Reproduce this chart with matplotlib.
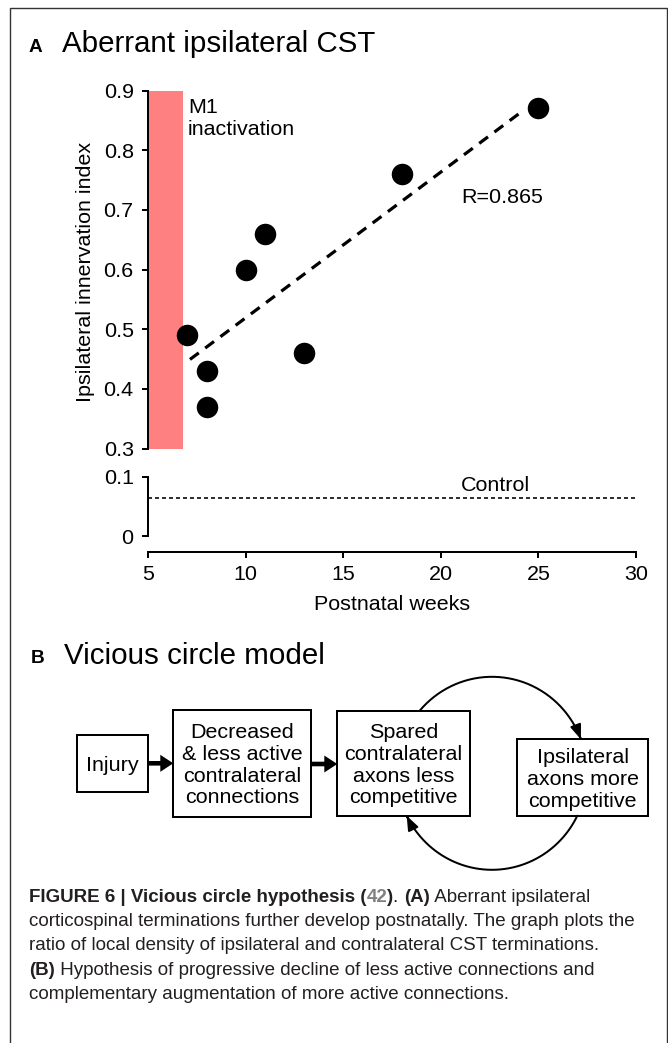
import numpy as np
import matplotlib
matplotlib.use("Agg")
import matplotlib.pyplot as plt
from matplotlib import font_manager
from matplotlib.patches import Rectangle, FancyArrow, FancyArrowPatch, ArrowStyle
from matplotlib.path import Path

# ---------------- data ----------------
postnatal_weeks = [7, 8, 8, 10, 11, 13, 18, 25]
ipsi_index = [0.49, 0.43, 0.37, 0.60, 0.66, 0.46, 0.76, 0.87]
control_index = 0.065
inactivation_span = [5.0, 6.8]
fit_span = [7.15, 24.3]
r_label = "R=0.865"
x_ticks = [5, 10, 15, 20, 25, 30]
x_tick_labels = ["5", "10", "15", "20", "25", "30"]
y_ticks_upper = [0.3, 0.4, 0.5, 0.6, 0.7, 0.8, 0.9]
y_tick_labels_upper = ["0.3", "0.4", "0.5", "0.6", "0.7", "0.8", "0.9"]
y_ticks_lower = [0.0, 0.1]
y_tick_labels_lower = ["0", "0.1"]

box_texts = [
    ["Injury"],
    ["Decreased", "& less active", "contralateral", "connections"],
    ["Spared", "contralateral", "axons less", "competitive"],
    ["Ipsilateral", "axons more", "competitive"],
]

caption_lines = [
    [("FIGURE 6 | Vicious circle hypothesis (", "bold", "#231f20"), ("42", "bold", "#808080"),
     (")", "bold", "#231f20"), (". ", "normal", "#231f20"), ("(A)", "bold", "#231f20"),
     (" Aberrant ipsilateral", "normal", "#231f20")],
    [("corticospinal terminations further develop postnatally. The graph plots the", "normal", "#231f20")],
    [("ratio of local density of ipsilateral and contralateral CST terminations.", "normal", "#231f20")],
    [("(B)", "bold", "#231f20"), (" Hypothesis of progressive decline of less active connections and", "normal", "#231f20")],
    [("complementary augmentation of more active connections.", "normal", "#231f20")],
]

# ---------------- layout ----------------
W, H, DPI = 668, 1043, 100
PX = 72.0 / DPI          # points per pixel
FS = 21.5 * PX           # axis / box text size
FS_TITLE = 29.5 * PX
FS_LETTER = 19 * PX

plt.rcParams["font.family"] = ["Liberation Sans", "DejaVu Sans"]
plt.rcParams["lines.scale_dashes"] = False

fig = plt.figure(figsize=(W / DPI, H / DPI), dpi=DPI, facecolor="white")

def fx(x):
    return x / W

def fy(y):
    return 1 - y / H

# overlay in pixel coordinates
ov = fig.add_axes([0, 0, 1, 1], zorder=5)
ov.set_xlim(0, W)
ov.set_ylim(H, 0)
ov.axis("off")

X0, X1 = 148, 636
TOP, MID = 90.5, 448.5
LTOP, LBOT = 477, 536

ax1 = fig.add_axes([fx(X0), fy(MID), (X1 - X0) / W, (MID - TOP) / H])
ax2 = fig.add_axes([fx(X0), fy(LBOT), (X1 - X0) / W, (LBOT - LTOP) / H])

for ax in (ax1, ax2):
    ax.set_xlim(x_ticks[0], x_ticks[-1])
    ax.patch.set_alpha(0)
    ax.spines["top"].set_visible(False)
    ax.spines["right"].set_visible(False)
    ax.spines["left"].set_linewidth(2 * PX)
    ax.tick_params(axis="y", direction="out", length=6 * PX, width=2 * PX, pad=6, labelsize=FS)

# upper panel
ax1.set_ylim(y_ticks_upper[0], y_ticks_upper[-1])
ax1.spines["bottom"].set_visible(False)
ax1.set_xticks([])
ax1.set_yticks(y_ticks_upper)
ax1.set_yticklabels(y_tick_labels_upper)
ax1.axvspan(inactivation_span[0], inactivation_span[1], color="#FF8080", lw=0, zorder=1)
ax1.scatter(postnatal_weeks, ipsi_index, s=(21.5 * PX) ** 2, c="black", lw=0, zorder=4, clip_on=False)
slope, intercept = np.polyfit(postnatal_weeks, ipsi_index, 1)
fx_line = np.array(fit_span)
ax1.plot(fx_line, slope * fx_line + intercept, color="black", lw=3.2 * PX,
         dashes=(11 * PX, 8 * PX), zorder=3)
ax1.text(21.06, 0.711, r_label, fontsize=FS, ha="left", va="baseline")
ax1.text(7.05, 0.8623, "M1", fontsize=FS, ha="left", va="baseline")
ax1.text(7.05, 0.8254, "inactivation", fontsize=FS, ha="left", va="baseline")
ax1.set_ylabel("Ipsilateral innervation index", fontsize=FS, va="baseline")
ax1.yaxis.set_label_coords(91, 272, transform=ov.transData)

# lower panel
ax2.set_ylim(y_ticks_lower[0], y_ticks_lower[-1])
ax2.set_yticks(y_ticks_lower)
ax2.set_yticklabels(y_tick_labels_lower)
ax2.spines["bottom"].set_position(("outward", 16 * PX))
ax2.spines["bottom"].set_bounds(x_ticks[0], x_ticks[-1])
ax2.spines["bottom"].set_linewidth(2 * PX)
ax2.set_xticks(x_ticks)
ax2.set_xticklabels(x_tick_labels)
ax2.tick_params(axis="x", direction="out", length=6 * PX, width=2 * PX, pad=5, labelsize=FS)
ax2.axhline(control_index, color="black", lw=1.6 * PX, dashes=(4 * PX, 3 * PX))
ax2.text(21.05, 0.0768, "Control", fontsize=FS, ha="left", va="baseline")
ax2.set_xlabel("Postnatal weeks", fontsize=FS, va="baseline")
ax2.xaxis.set_label_coords((X0 + X1) / 2, 609.5, transform=ov.transData)

# frame
ov.plot([10, 10, 667, 667], [H + 5, 8, 8, H + 5], color="#333333", lw=1.4 * PX, clip_on=False,
        solid_joinstyle="miter")

# panel titles
ov.text(29, 52, "A", fontsize=FS_LETTER, weight="bold", ha="left", va="baseline")
ov.text(61.5, 52, "Aberrant ipsilateral CST", fontsize=FS_TITLE, ha="left", va="baseline")
ov.text(31, 663, "B", fontsize=FS_LETTER, weight="bold", ha="left", va="baseline")
ov.text(63.5, 664, "Vicious circle model", fontsize=FS_TITLE, ha="left", va="baseline")

# boxes
box_rects = [(77.3, 735, 148.3, 791.7), (173.3, 710, 311, 816.7),
             (337.3, 710.7, 470, 815.7), (517.3, 739.3, 648.3, 815.7)]
PITCH = 21.7
for (bx0, by0, bx1, by1), lines in zip(box_rects, box_texts):
    ov.add_patch(Rectangle((bx0, by0), bx1 - bx0, by1 - by0, fill=False, ec="black", lw=2 * PX))
    cx, cy = (bx0 + bx1) / 2, (by0 + by1) / 2
    n = len(lines)
    for i, s in enumerate(lines):
        yb = cy + (i - (n - 1) / 2) * PITCH + 7.5
        ov.text(cx, yb, s, fontsize=FS, ha="center", va="baseline")

# straight thick arrows
for (ax0, ay, ax1_) in [(148.3, 763.3, 173.3), (311, 764, 337.3)]:
    ov.add_patch(FancyArrow(ax0, ay, ax1_ - ax0, 0, width=4.6, head_width=17, head_length=13,
                            length_includes_head=True, color="black", lw=0))

# circular feedback arcs
CX, CY, RX, RY = 492, 773.3, 95, 96.5
def t_at(y, side):
    s = (CY - y) / RY
    t = np.arcsin(np.clip(s, -1, 1))
    return t if side == "right" else np.pi - t

arcs = [
    (t_at(box_rects[2][1], "left"), t_at(box_rects[3][1], "right")),          # top: spared -> ipsi
    (t_at(box_rects[3][3], "right"), t_at(box_rects[2][3], "left") - 2 * np.pi),  # bottom: ipsi -> spared
]
style = ArrowStyle("-|>", head_length=12 * PX, head_width=4.6 * PX)
for t0, t1 in arcs:
    tt = np.linspace(t0, t1, 200)
    verts = np.column_stack([CX + RX * np.cos(tt), CY - RY * np.sin(tt)])
    ov.add_patch(FancyArrowPatch(path=Path(verts), arrowstyle=style, mutation_scale=1,
                                 color="black", lw=2 * PX))

# caption
def has_font(name):
    try:
        font_manager.findfont(font_manager.FontProperties(family=name), fallback_to_default=False)
        return True
    except Exception:
        return False

cap_family = "Liberation Sans Narrow" if has_font("Liberation Sans Narrow") else "Liberation Sans"
fig.canvas.draw()
renderer = fig.canvas.get_renderer()

def adv(s, size, weight):
    t1 = fig.text(0, 0, "x" + s + "x", fontsize=size, family=cap_family, weight=weight)
    t2 = fig.text(0, 0, "xx", fontsize=size, family=cap_family, weight=weight)
    w = t1.get_window_extent(renderer).width - t2.get_window_extent(renderer).width
    t1.remove()
    t2.remove()
    return w

base = 14.0
w2 = adv(caption_lines[1][0][0], base, "normal")
cap_size = base * 612.0 / w2

for i, segs in enumerate(caption_lines):
    pen = 29.0
    yb = 902 + i * 24.2
    for s, wt, col in segs:
        ov.text(pen, yb, s, fontsize=cap_size, family=cap_family, weight=wt, color=col,
                ha="left", va="baseline")
        pen += adv(s, cap_size, wt)

fig.savefig("out.png", dpi=DPI, facecolor="white")
